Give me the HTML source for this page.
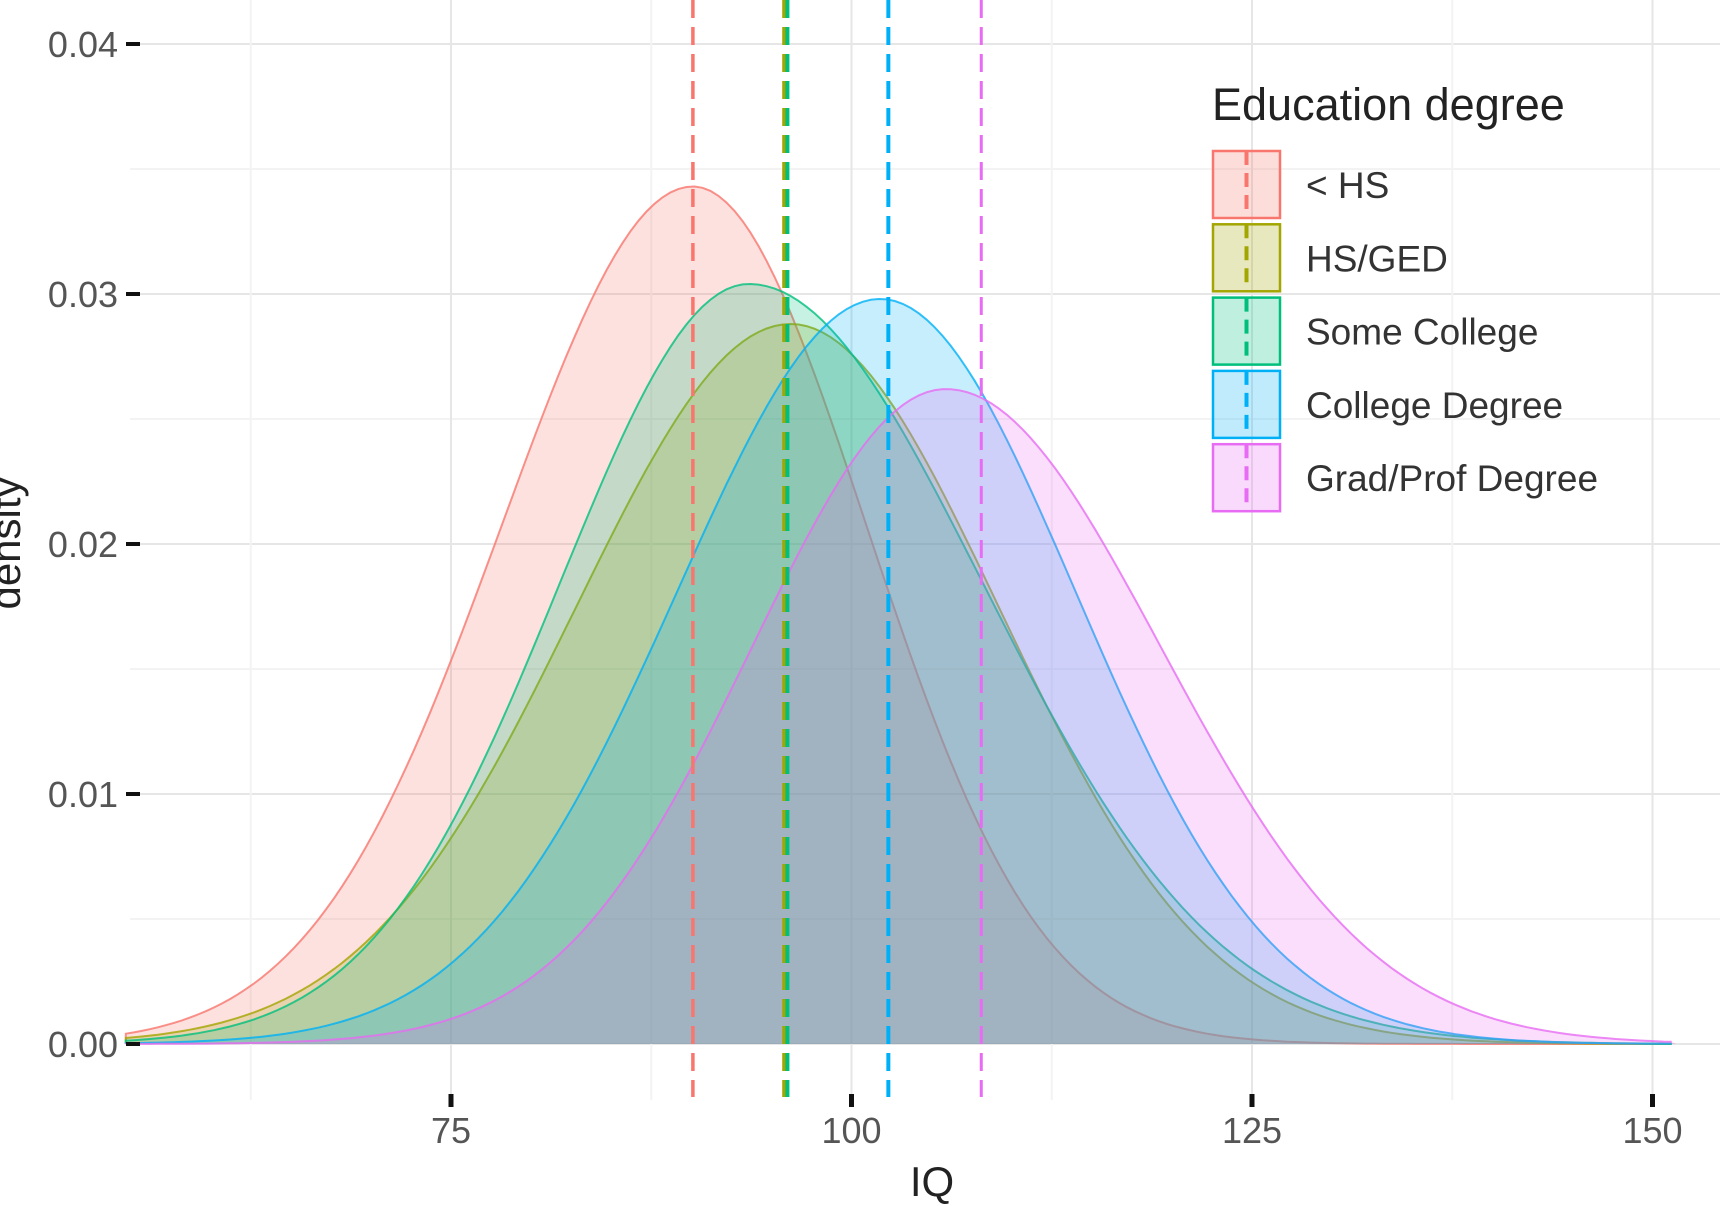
<!DOCTYPE html>
<html><head><meta charset="utf-8"><style>
body{margin:0;background:#fff;}
svg{display:block;font-family:"Liberation Sans",sans-serif;}
</style></head><body>
<svg id="s" width="1720" height="1206" viewBox="0 0 1720 1206" xmlns="http://www.w3.org/2000/svg">
<g id="grid"></g>
<g id="curves"></g>
<g id="vl"></g>
<g id="axes"></g>
<g id="leg">
<text x="1212" y="120" font-size="45" fill="#222">Education degree</text>
</g>
</svg>
<script>
const NS="http://www.w3.org/2000/svg";
function X(v){return 451+(v-75)*16.02;}
function Y(d){return 1044-d*25000;}
function el(p,t,a,txt){const e=document.createElementNS(NS,t);for(const k in a)e.setAttribute(k,a[k]);if(txt!==undefined)e.textContent=txt;document.getElementById(p).appendChild(e);return e;}
for(let d=0;d<=0.0425;d+=0.005){el("grid","line",{x1:130,x2:1720,y1:Y(d),y2:Y(d),stroke:(Math.round(d*1000)%10==0)?"#e6e6e6":"#f3f3f3","stroke-width":2});}
for(let v=62.5;v<=155;v+=12.5){el("grid","line",{x1:X(v),x2:X(v),y1:0,y2:1100,stroke:(v%25==0)?"#e6e6e6":"#f3f3f3","stroke-width":2});}
const S=[
["#F8766D",90.1,0.0343,11.9,10.8],
["#A3A500",96.2,0.0288,13.4,13.0],
["#00BF7D",93.6,0.0304,11.8,14.6],
["#00B0F6",101.8,0.0298,12.7,12.2],
["#E76BF3",105.9,0.0262,12.1,13.4]];
S.forEach(([c,m,h,sl,sr])=>{
 let p="M"+X(54.7)+","+Y(0);
 for(let v=54.7;v<=151.5;v+=0.5){const s=v<m?sl:sr;const d=h*Math.exp(-0.5*((v-m)/s)**2);p+=" L"+X(v).toFixed(1)+","+Y(d).toFixed(1);}
 let top=p;
 p+=" L"+X(151.5)+","+Y(0)+" Z";
 el("curves","path",{d:p,fill:c,"fill-opacity":0.22,stroke:"none"});
 el("curves","path",{d:top,fill:"none",stroke:c,"stroke-width":2,"stroke-opacity":0.8});
});
[["#F8766D",90.1,3.5],["#A3A500",95.8,4],["#00BF7D",96.0,4],["#00B0F6",102.3,4],["#E76BF3",108.1,3]].forEach(([c,v,w])=>{
 el("vl","line",{x1:X(v),x2:X(v),y1:0,y2:1097,stroke:c,"stroke-width":w,"stroke-dasharray":"18 9"});
});
["0.00","0.01","0.02","0.03","0.04"].forEach((t,i)=>{
 const y=Y(i*0.01);
 el("axes","line",{x1:126,x2:140,y1:y,y2:y,stroke:"#111","stroke-width":4});
 el("axes","text",{x:118,y:y+13,"font-size":36,fill:"#555","text-anchor":"end"},t);
});
[75,100,125,150].forEach(v=>{
 el("axes","line",{x1:X(v),x2:X(v),y1:1094,y2:1107,stroke:"#111","stroke-width":5});
 el("axes","text",{x:X(v),y:1143,"font-size":36,fill:"#555","text-anchor":"middle"},v);
});
el("axes","text",{x:932,y:1196,"font-size":42,fill:"#222","text-anchor":"middle"},"IQ");
el("axes","text",{x:0,y:0,"font-size":42,fill:"#222","text-anchor":"middle",transform:"translate(20,543) rotate(-90)"},"density");
const L=[["#F8766D","< HS"],["#A3A500","HS/GED"],["#00BF7D","Some College"],["#00B0F6","College Degree"],["#E76BF3","Grad/Prof Degree"]];
L.forEach(([c,t],i)=>{
 const y=151+i*73.3;
 el("leg","rect",{x:1213,y:y,width:67,height:67,fill:c,"fill-opacity":0.25,stroke:c,"stroke-width":2.5});
 el("leg","line",{x1:1246.5,x2:1246.5,y1:y,y2:y+67,stroke:c,"stroke-width":4,"stroke-dasharray":"14 8"});
 el("leg","text",{x:1306,y:y+47,"font-size":37,fill:"#333"},t);
});
</script>
</body></html>
